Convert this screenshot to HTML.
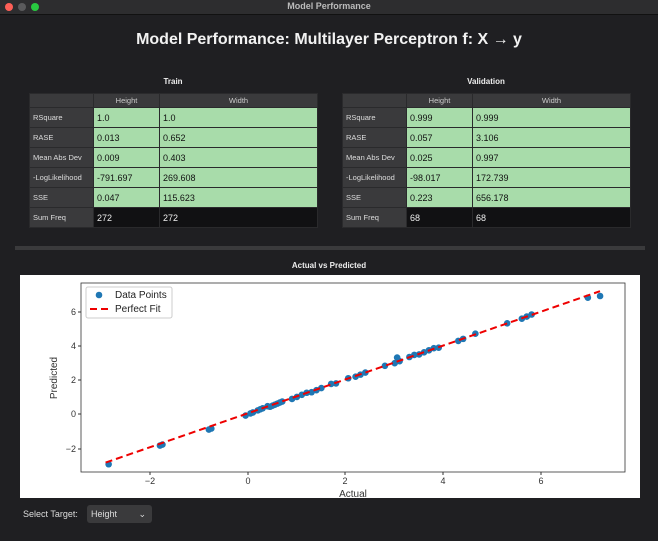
<!DOCTYPE html>
<html><head><meta charset="utf-8"><style>
body{margin:0;width:658px;height:541px;background:#1f1f22;font-family:"Liberation Sans",sans-serif;overflow:hidden;position:relative;color:#eee}
.tb{position:absolute;left:0;top:0;width:658px;height:14px;background:#2d2d2f;border-bottom:1px solid #111}
.tb .t{position:absolute;width:100%;text-align:center;top:1px;font-size:9px;color:#bbb;font-weight:bold}
.dot{position:absolute;top:3px;width:8px;height:8px;border-radius:50%}
h1{position:absolute;top:31px;left:0;width:658px;margin:0;text-align:center;font-size:16px;font-weight:bold;color:#f2f2f2}
.cap{position:absolute;font-size:8px;font-weight:bold;color:#eee;text-align:center}
table{position:absolute;border-collapse:collapse;font-size:9px;background:#3a3a3c;border-radius:3px}
td{border:1px solid #2a2a2c;height:19px;padding:0 0 0 3px;color:#111}
td.l{background:#3a3a3c;color:#ddd;font-size:7.5px;width:60px}
td.g{background:#a8dcaa}
td.k{background:#111113;color:#eee}
tr.h td{height:13px;text-align:center;color:#ccc;font-size:7.5px;background:#3a3a3c;padding:0}
</style></head><body>
<div class="tb"><span class="dot" style="left:5px;background:#fe5f57"></span><span class="dot" style="left:18px;background:#5a5a5c"></span><span class="dot" style="left:31px;background:#28c840"></span><div class="t">Model Performance</div></div>
<h1>Model Performance: Multilayer Perceptron f: X → y</h1>
<div class="cap" style="left:29px;width:288px;top:77px">Train</div>
<div class="cap" style="left:342px;width:288px;top:77px">Validation</div>
<table style="left:29px;top:93px;width:289px">
<tr class="h"><td style="width:63px"></td><td style="width:65px">Height</td><td>Width</td></tr>
<tr><td class="l">RSquare</td><td class="g">1.0</td><td class="g">1.0</td></tr>
<tr><td class="l">RASE</td><td class="g">0.013</td><td class="g">0.652</td></tr>
<tr><td class="l">Mean Abs Dev</td><td class="g">0.009</td><td class="g">0.403</td></tr>
<tr><td class="l">-LogLikelihood</td><td class="g">-791.697</td><td class="g">269.608</td></tr>
<tr><td class="l">SSE</td><td class="g">0.047</td><td class="g">115.623</td></tr>
<tr><td class="l">Sum Freq</td><td class="k">272</td><td class="k">272</td></tr>
</table>
<table style="left:342px;top:93px;width:289px">
<tr class="h"><td style="width:63px"></td><td style="width:65px">Height</td><td>Width</td></tr>
<tr><td class="l">RSquare</td><td class="g">0.999</td><td class="g">0.999</td></tr>
<tr><td class="l">RASE</td><td class="g">0.057</td><td class="g">3.106</td></tr>
<tr><td class="l">Mean Abs Dev</td><td class="g">0.025</td><td class="g">0.997</td></tr>
<tr><td class="l">-LogLikelihood</td><td class="g">-98.017</td><td class="g">172.739</td></tr>
<tr><td class="l">SSE</td><td class="g">0.223</td><td class="g">656.178</td></tr>
<tr><td class="l">Sum Freq</td><td class="k">68</td><td class="k">68</td></tr>
</table>
<div style="position:absolute;left:15px;top:246px;width:630px;height:4px;background:#3a3a3c"></div>
<div class="cap" style="left:0;width:658px;top:261px">Actual vs Predicted</div>
<svg style="position:absolute;left:20px;top:275px" width="620" height="223" viewBox="20 275 620 223">
<rect x="20" y="275" width="620" height="223" fill="#fff"/>
<rect x="81" y="283" width="544" height="189" fill="none" stroke="#333" stroke-width="0.8"/>
<g font-size="9" fill="#333" font-family="Liberation Sans,sans-serif">
<g text-anchor="middle">
<line x1="150" y1="472" x2="150" y2="475" stroke="#333"/><text x="150" y="484">−2</text>
<line x1="248" y1="472" x2="248" y2="475" stroke="#333"/><text x="248" y="484">0</text>
<line x1="345" y1="472" x2="345" y2="475" stroke="#333"/><text x="345" y="484">2</text>
<line x1="443" y1="472" x2="443" y2="475" stroke="#333"/><text x="443" y="484">4</text>
<line x1="541" y1="472" x2="541" y2="475" stroke="#333"/><text x="541" y="484">6</text>
<text x="353" y="497" font-size="10">Actual</text>
</g>
<g text-anchor="end">
<line x1="78" y1="312" x2="81" y2="312" stroke="#333"/><text x="76" y="315">6</text>
<line x1="78" y1="346" x2="81" y2="346" stroke="#333"/><text x="76" y="349">4</text>
<line x1="78" y1="380" x2="81" y2="380" stroke="#333"/><text x="76" y="383">2</text>
<line x1="78" y1="414" x2="81" y2="414" stroke="#333"/><text x="76" y="417">0</text>
<line x1="78" y1="449" x2="81" y2="449" stroke="#333"/><text x="76" y="452">−2</text>
</g>
<text transform="translate(57,378) rotate(-90)" text-anchor="middle" font-size="10">Predicted</text>
</g>
<g fill="#1f77b4" id="pts"></g>
<line x1="105.6" y1="462.6" x2="600" y2="291.2" stroke="#e00" stroke-width="2" stroke-dasharray="7,4"/>
<rect x="86" y="287" width="86" height="31" fill="#fff" stroke="#ccc" rx="2"/>
<circle cx="99" cy="295" r="3.3" fill="#1f77b4"/>
<line x1="90" y1="309" x2="108" y2="309" stroke="#e00" stroke-width="2" stroke-dasharray="7,4"/>
<text x="115" y="298" font-size="10" fill="#222" font-family="Liberation Sans,sans-serif">Data Points</text>
<text x="115" y="312" font-size="10" fill="#222" font-family="Liberation Sans,sans-serif">Perfect Fit</text>
</svg>
<div style="position:absolute;left:23px;top:509px;font-size:9px;color:#ddd">Select Target:</div>
<div style="position:absolute;left:87px;top:505px;width:65px;height:18px;background:#3a3a3c;border-radius:3px;font-size:9px;color:#ddd;line-height:18px;padding-left:4px;box-sizing:border-box">Height<span style="position:absolute;right:6px;top:0">⌄</span></div>
<script>
var xs=[-2.85,-1.8,-1.75,-0.8,-0.75,-0.05,0.05,0.1,0.2,0.25,0.3,0.4,0.45,0.5,0.55,0.6,0.65,0.7,0.9,1.0,1.1,1.2,1.3,1.4,1.5,1.7,1.8,2.05,2.2,2.3,2.4,2.8,3.0,3.05,3.1,3.3,3.4,3.5,3.6,3.7,3.8,3.9,4.3,4.4,4.65,5.3,5.6,5.7,5.8,6.95,7.2];
var ys={"3.05":3.3,"6.95":6.8,"7.2":6.9};
var g=document.getElementById('pts'),h='';
xs.forEach(function(x){var y=ys[x]!==undefined?ys[x]:x+((x*7)%3-1)*0.03;h+='<circle cx="'+(248+48.9*x)+'" cy="'+(414-17.1*y)+'" r="3.3"/>';});
g.innerHTML=h;
</script>
</body></html>
